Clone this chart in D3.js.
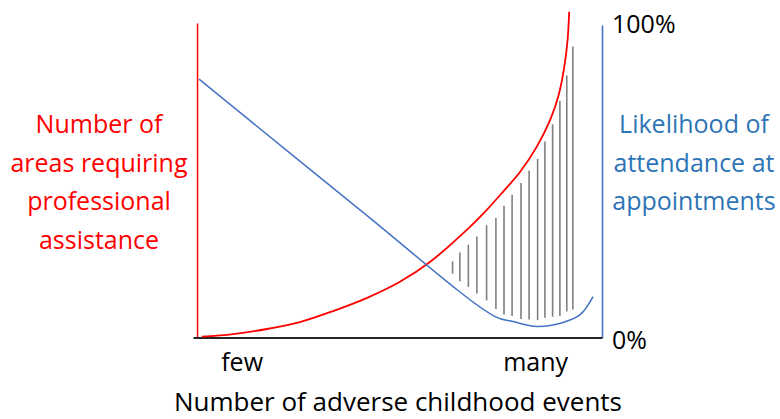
<!DOCTYPE html>
<html>
<head>
<meta charset="utf-8">
<title>Adverse childhood events</title>
<script src="https://d3js.org/d3.v7.min.js"></script>
<style>
    body { margin: 0; background: #fff; }
    svg text { font-family: "Open Sans", sans-serif; }
</style>
</head>
<body>
<div id="chart"></div>
<script>
    // number of areas needing help (left, red) - rises steeply
    var areasX = [1.15, 8.9, 17.3, 25.4, 33.6, 42.0, 50.1, 57.5, 67.4, 71.5, 75.6, 79.8, 83.9, 87.2, 89.2, 90.7, 91.5, 91.9];
    var areasY = [0.25, 1.1, 2.7, 4.9, 8.4, 12.6, 17.7, 24.0, 35.2, 40.5, 46.4, 52.7, 60.7, 69.2, 76.6, 86.1, 94.6, 103.6];

    // likelihood of attendance (right, blue), percent
    var attendX = [0.5, 40, 73.6, 78.0, 83.9, 90.4, 94.6, 97.8];
    var attendY = [82.7, 41.1, 6.7, 5.1, 3.5, 4.8, 7.3, 13.1];

    // hatched gap between the two curves
    var gapX = [63.1, 64.9, 67.0, 69.1, 71.5, 73.8, 75.8, 77.8, 80.0, 82.0, 84.1, 85.9, 87.8, 89.6, 91.3, 92.8];
    var gapTop = [24.2, 27.0, 29.5, 32.1, 35.7, 38.0, 41.9, 45.4, 49.1, 53.1, 56.8, 62.3, 67.8, 75.3, 83.3, 92.5];
    var gapBottom = [20.3, 17.9, 16.1, 14.0, 11.8, 9.1, 7.3, 6.8, 5.9, 5.7, 5.5, 6.3, 6.6, 6.8, 8.3, 8.9];

    var xTickValues = [11, 83.5];
    var xTickLabels = ["few", "many"];
    var rightTicks = [0, 100];

    var leftLabel = ["Number of", "areas requiring", "professional", "assistance"];
    var rightLabel = ["Likelihood of", "attendance at", "appointments"];
    var xTitle = "Number of adverse childhood events";

    var W = 780, H = 419;
    var red = "#ff0000", blue = "#4472c4", blueText = "#2e75b6";
    var fs = "25px";

    var svg = d3.select("#chart").append("svg")
        .attr("width", W)
        .attr("height", H);

    var x = d3.scaleLinear().domain([-1, 100]).range([193, 602]);
    var yL = d3.scaleLinear().domain([0, 100]).range([337.5, 23]);
    var yR = d3.scaleLinear().domain([0, 100]).range([337.5, 25]);

    // hatching
    svg.append("g")
        .selectAll("line")
        .data(gapX)
        .enter()
        .append("line")
        .attr("x1", function (d) { return x(d); })
        .attr("x2", function (d) { return x(d); })
        .attr("y1", function (d, i) { return yL(gapTop[i]); })
        .attr("y2", function (d, i) { return yL(gapBottom[i]); })
        .attr("stroke", "#7f7f7f")
        .attr("stroke-width", 1.6);

    // left axis (red, no ticks)
    var axL = svg.append("g")
        .attr("transform", "translate(" + x(0) + ",0)")
        .call(d3.axisLeft(yL).tickValues([]).tickSizeOuter(0));
    axL.select(".domain").attr("stroke", red).attr("stroke-width", 1.5);

    // right axis (blue) with 0% / 100%
    var axR = svg.append("g")
        .attr("transform", "translate(" + x(100) + ",0)")
        .call(d3.axisRight(yR).tickValues(rightTicks).tickSize(0).tickSizeOuter(0)
            .tickPadding(10).tickFormat(function (d) { return d + "%"; }));
    axR.select(".domain").attr("stroke", blue).attr("stroke-width", 1.6);
    axR.selectAll("text")
        .attr("fill", "#000")
        .style("font-size", fs)
        .attr("dy", function (d) { return d === 0 ? "0.45em" : "0.3em"; });

    // bottom axis
    var axB = svg.append("g")
        .attr("transform", "translate(0," + yL(0) + ")")
        .call(d3.axisBottom(x).tickValues(xTickValues).tickSize(0).tickSizeOuter(0)
            .tickPadding(16).tickFormat(function (d, i) { return xTickLabels[i]; }));
    axB.select(".domain").attr("stroke", "#262626").attr("stroke-width", 2);
    axB.selectAll("text")
        .attr("fill", "#000")
        .style("font-size", fs);

    // curves
    var areasLine = d3.line()
        .x(function (d) { return x(d[0]); })
        .y(function (d) { return yL(d[1]); })
        .curve(d3.curveCatmullRom.alpha(0.5));
    svg.append("path")
        .datum(d3.zip(areasX, areasY))
        .attr("d", areasLine)
        .attr("fill", "none")
        .attr("stroke", red)
        .attr("stroke-width", 1.8);

    var attendLine = d3.line()
        .x(function (d) { return x(d[0]); })
        .y(function (d) { return yR(d[1]); })
        .curve(d3.curveCatmullRom.alpha(0.5));
    svg.append("path")
        .datum(d3.zip(attendX, attendY))
        .attr("d", attendLine)
        .attr("fill", "none")
        .attr("stroke", blue)
        .attr("stroke-width", 1.5);

    // side labels
    svg.append("text")
        .attr("text-anchor", "middle")
        .attr("fill", red)
        .style("font-size", fs)
        .selectAll("tspan")
        .data(leftLabel)
        .enter()
        .append("tspan")
        .attr("x", 99)
        .attr("y", function (d, i) { return 133 + i * 38.5; })
        .text(function (d) { return d; });

    svg.append("text")
        .attr("text-anchor", "middle")
        .attr("fill", blueText)
        .style("font-size", fs)
        .selectAll("tspan")
        .data(rightLabel)
        .enter()
        .append("tspan")
        .attr("x", 694)
        .attr("y", function (d, i) { return 133 + i * 38.5; })
        .text(function (d) { return d; });

    svg.append("text")
        .attr("x", 398)
        .attr("y", 411)
        .attr("text-anchor", "middle")
        .style("font-size", "26px")
        .attr("fill", "#000")
        .text(xTitle);
</script>
</body>
</html>
